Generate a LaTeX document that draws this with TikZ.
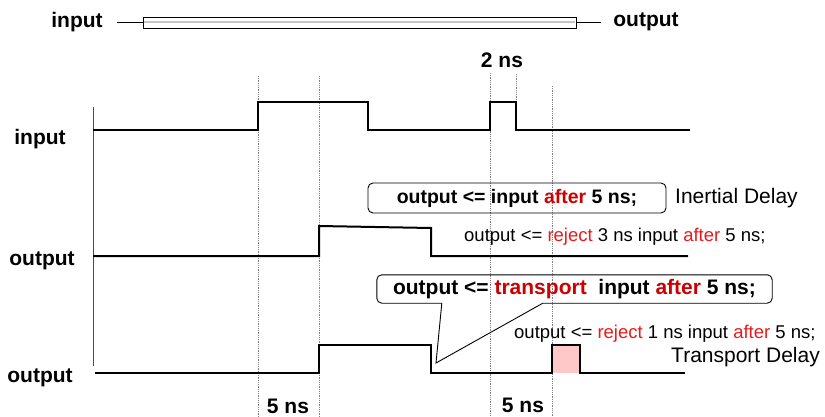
\documentclass[tikz,border=0pt]{standalone}
\usepackage{fontspec}
\setmainfont{Liberation Sans}
\usetikzlibrary{calc}
\definecolor{kwb}{RGB}{204,0,0}
\definecolor{kwr}{RGB}{235,25,25}
\definecolor{pinkf}{RGB}{255,200,200}
\begin{document}
\begin{tikzpicture}[x=1pt,y=-1pt,
  lbl/.style={font=\fontsize{21}{24}\selectfont\bfseries, inner sep=0},
  reg/.style={font=\fontsize{18.5}{22}\selectfont, inner sep=0, anchor=west},
  big/.style={font=\fontsize{21}{24}\selectfont, inner sep=0, anchor=west},
  wave/.style={line width=2pt, line join=miter},
  vgrid/.style={densely dotted, gray, line width=0.8pt},
  codebox/.style={draw, rounded corners=5pt, line width=0.9pt, inner sep=0},
  wire/.style={line width=1.2pt}]
\useasboundingbox (0,0) rectangle (825,417);

% --- top: wire symbol
\node[lbl] (tin) at (77,22) {input};
\node[lbl] (tout) at (646,22) {output};
\node[draw, line width=0.9pt, minimum width=433pt, minimum height=11pt, inner sep=0,
      fill=white] (bar) at (359.5,22.5) {};
\draw[gray!45, line width=2pt] ($(bar.west)+(1,0)$) -- ($(bar.east)+(-1,0)$);
\coordinate (wl) at (117,22.5);
\coordinate (wr) at (601,22.5);
\draw[wire] (wl) -- (bar.west);
\draw[wire] (bar.east) -- (wr);

% --- dotted time markers
\draw[vgrid] (258,76) -- (258,417);
\draw[vgrid] (319,76) -- (319,417);
\draw[vgrid] (490,73) -- (490,417);
\draw[vgrid] (516,74) -- (516,102);
\draw[vgrid] (552,86) -- (552,417);

% --- axis
\draw[line width=1pt, gray!60!black] (93,107) -- (93,366);

% --- labels
\node[lbl] (lin) at (40,139) {input};
\node[lbl] (lo1) at (42,261) {output};
\node[lbl] (lo2) at (40,378) {output};
\node[lbl] (t2) at (502,60) {2 ns};
\node[lbl] (t5a) at (288,406) {5 ns};
\node[lbl] (t5b) at (523,405) {5 ns};

% --- waveforms
\draw[wave] (93,130) -- (258,130) -- (258,102) -- (368,102) -- (368,130) -- (490,130)
  -- (490,102) -- (516,102) -- (516,130) -- (690,130);
\draw[wave] (93,256) -- (319,256) -- (319,226) -- (431,228) -- (431,256) -- (688,256);
\fill[pinkf] (552,345) rectangle (580,373);
\draw[wave] (95,373) -- (319,373) -- (319,345) -- (431,345) -- (431,373) -- (552,373)
  -- (552,345) -- (580,345) -- (580,373) -- (685,373);

% --- inertial delay
\node[codebox, minimum width=298pt, minimum height=30pt,
      font=\fontsize{19.5}{22}\selectfont\bfseries] (box1) at (517,198)
  {output <= input \textcolor{kwb}{after} 5 ns;};
\node[big] (inert) at (675,198) {Inertial Delay};
\node[reg] (rej3) at (464,237)
  {output <= \textcolor{kwr}{reject} 3 ns input \textcolor{kwr}{after} 5 ns;};

% --- transport delay
\node[inner sep=0, minimum width=395pt, minimum height=28pt,
      font=\fontsize{21}{24}\selectfont\bfseries] (box2) at (574.5,289)
  {output <= \textcolor{kwb}{transport}\ \ input \textcolor{kwb}{after} 5 ns;};
\coordinate (tip) at (436,363);
\coordinate (ta) at ($(box2.south west)+(65,0)$);
\coordinate (tb) at ($(box2.south west)+(166,0)$);
\draw[line width=0.9pt, rounded corners=5pt] (ta) -- (box2.south west) -- (box2.north west)
  -- (box2.north east) -- (box2.south east) -- (tb);
\draw[line width=0.9pt] (ta) -- (tip) -- (tb);
\node[reg] (rej1) at (514,334)
  {output <= \textcolor{kwr}{reject} 1 ns input \textcolor{kwr}{after} 5 ns;};
\node[big] (trans) at (671,357) {Transport Delay};
\end{tikzpicture}
\end{document}
